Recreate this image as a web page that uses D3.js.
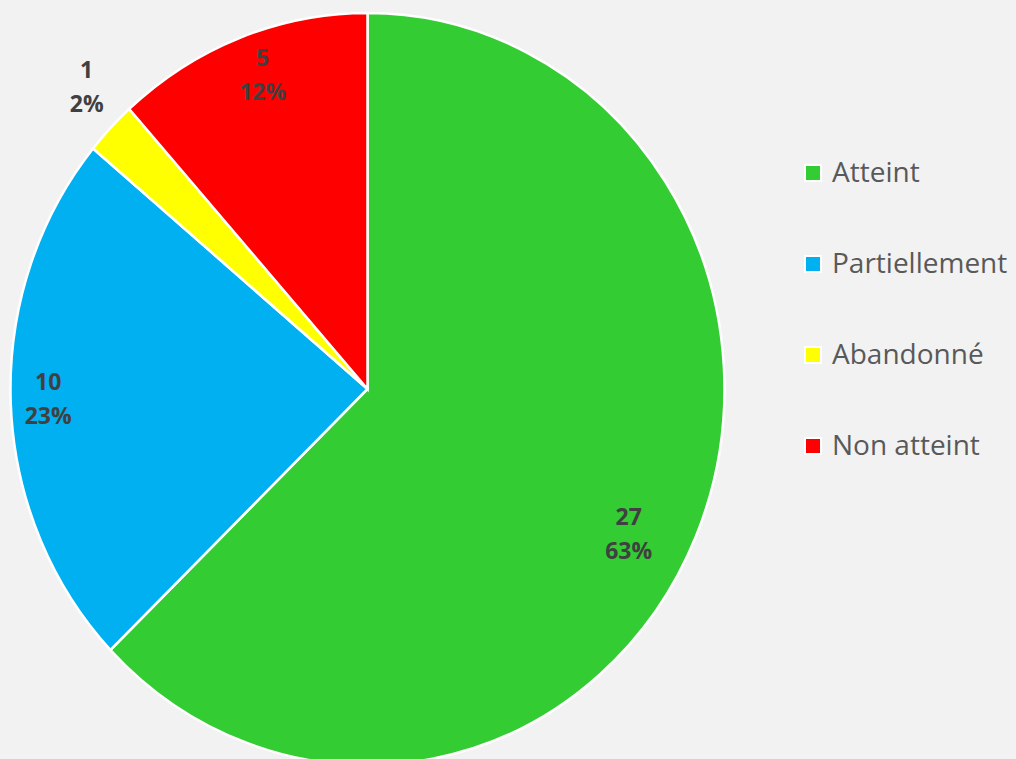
<!DOCTYPE html>
<html>
<head>
<meta charset="utf-8">
<script src="https://cdn.jsdelivr.net/npm/d3@7"></script>
<style>
  body { margin: 0; background: #f2f2f2; }
  svg { display: block; }
</style>
</head>
<body>
<svg width="1016" height="759"></svg>
<script>
const categories = ["Atteint", "Partiellement", "Abandonné", "Non atteint"];
const counts = [27, 10, 1, 5];
const percentLabels = ["63%", "23%", "2%", "12%"];
const colors = ["#33cc33", "#00b0f0", "#ffff00", "#ff0000"];

const center = {x: 367.5, y: 389};
const radius = 357;
const stretchY = 376 / 357;
// label placement: fraction of radius, angle nudge (radians)
const labelLayout = [
  {r: 0.83, da: 0.09},
  {r: 0.895, da: 0},
  {r: 1.12, da: 0.025},
  {r: 0.88, da: 0.025}
];

function renderPie(svg, pieData){
  var arc = d3.arc().innerRadius(0).outerRadius(radius);
  var g = svg.append("g")
             .attr("transform", "translate(" + center.x + "," + center.y + ") scale(1," + stretchY + ")");
  g.selectAll("path")
   .data(pieData)
   .enter().append("path")
   .attr("d", arc)
   .attr("fill", function(d, i){ return colors[i]; })
   .attr("stroke", "#ffffff")
   .attr("stroke-width", 2.5)
   .attr("vector-effect", "non-scaling-stroke");
}

function renderLabels(svg, pieData){
  var g = svg.append("g")
             .attr("font-family", "'Open Sans', sans-serif")
             .attr("font-weight", "bold")
             .attr("font-size", 23)
             .attr("fill", "#404040")
             .attr("text-anchor", "middle");
  pieData.forEach(function(d, i){
    var a = (d.startAngle + d.endAngle) / 2 + labelLayout[i].da;
    var r = radius * labelLayout[i].r;
    var x = center.x + r * Math.sin(a);
    var y = center.y - r * Math.cos(a) * stretchY;
    var t = g.append("text").attr("x", x).attr("y", y);
    t.append("tspan").attr("x", x).attr("dy", -11).text(counts[i]);
    t.append("tspan").attr("x", x).attr("dy", 34).text(percentLabels[i]);
  });
}

function renderLegend(svg){
  var legendY = d3.scalePoint()
                  .domain(categories)
                  .range([182, 455]);
  var items = svg.append("g")
                 .selectAll("g")
                 .data(categories)
                 .enter().append("g")
                 .attr("transform", function(d){ return "translate(0," + legendY(d) + ")"; });
  items.append("rect")
       .attr("x", 805).attr("y", -17)
       .attr("width", 16).attr("height", 16)
       .attr("fill", function(d, i){ return colors[i]; })
       .attr("stroke", "#ffffff")
       .attr("stroke-width", 2);
  items.append("text")
       .attr("x", 832)
       .attr("font-family", "'Open Sans', sans-serif")
       .attr("font-size", 28)
       .attr("fill", "#595959")
       .text(function(d){ return d; });
}

var svg = d3.select("svg");
var pie = d3.pie().sort(null).value(function(d){ return d; });
var pieData = pie(counts);
renderPie(svg, pieData);
renderLabels(svg, pieData);
renderLegend(svg);
</script>
</body>
</html>
